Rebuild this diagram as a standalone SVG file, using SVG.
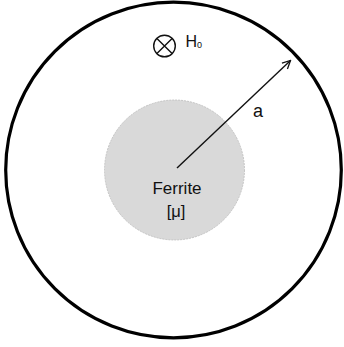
<svg xmlns="http://www.w3.org/2000/svg" width="344" height="347" viewBox="0 0 344 347">
<style>
text{font-family:"Liberation Sans",Arial,sans-serif;fill:#111}
</style>
<defs>
<marker id="ah" markerWidth="10" markerHeight="10" refX="9" refY="5" orient="auto" markerUnits="userSpaceOnUse">
<path d="M1,1 L9,5 L1,9" fill="none" stroke="#111" stroke-width="1.3"/>
</marker>
</defs>
<rect width="344" height="347" fill="#fff"/>
<g id="outer">
<circle cx="173.5" cy="170" r="167.8" fill="none" stroke="#000" stroke-width="3.2"/>
</g>
<g id="ferrite">
<circle cx="174.5" cy="170" r="70" fill="#d9d9d9" stroke="#bbb" stroke-width="0.8" stroke-dasharray="2,1"/>
<text x="177" y="193.5" font-size="17" text-anchor="middle">Ferrite</text>
<text x="176" y="217" font-size="16.5" text-anchor="middle">[μ]</text>
</g>
<g id="field">
<circle cx="164.5" cy="46" r="10.8" fill="none" stroke="#111" stroke-width="1.4"/>
<path d="M156.9,38.4 L172.1,53.6 M172.1,38.4 L156.9,53.6" stroke="#111" stroke-width="1.4"/>
<text x="185.5" y="46.5" font-size="16">H<tspan font-size="9" dy="1">0</tspan></text>
</g>
<g id="connectors">
<line x1="177" y1="168" x2="290.5" y2="60.5" stroke="#111" stroke-width="1.4" marker-end="url(#ah)"/>
</g>
<g id="label-a">
<text x="253" y="116.7" font-size="18">a</text>
</g>
</svg>
